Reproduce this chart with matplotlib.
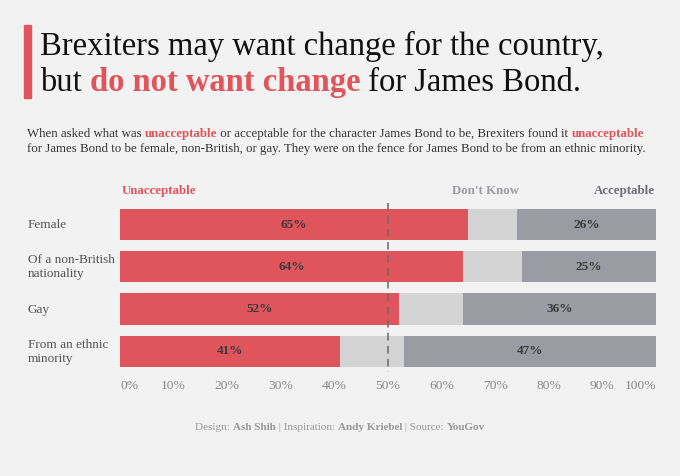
import matplotlib
matplotlib.use("Agg")
import matplotlib.pyplot as plt
from matplotlib.patches import Rectangle

categories = ["Female", "Of a non-British\nnationality", "Gay", "From an ethnic\nminority"]
unacceptable = [65, 64, 52, 41]
dont_know = [9, 11, 12, 12]
acceptable = [26, 25, 36, 47]
tick_vals = [0, 10, 20, 30, 40, 50, 60, 70, 80, 90, 100]
tick_labels = [f"{v}%" for v in tick_vals]

RED = "#E0555B"
LIGHT = "#D4D4D4"
DARK = "#9A9BA3"
BG = "#F2F2F2"
FONT = "Liberation Serif"

plt.rcParams["font.family"] = [FONT, "DejaVu Serif"]

W, H = 680, 476
fig = plt.figure(figsize=(W / 100, H / 100), dpi=100, facecolor=BG)

def fx(px):
    return px / W

def fy(py):
    return 1 - py / H

renderer = fig.canvas.get_renderer()

def rich(x_px, y_px, parts, **common):
    x = fx(x_px)
    for text, props in parts:
        kw = dict(common)
        kw.update(props)
        t = fig.text(x, fy(y_px), text, va="baseline", ha="left", **kw)
        bb = t.get_window_extent(renderer)
        x = bb.x1 / W
    return x

# Title bar
fig.patches.append(Rectangle((fx(24), fy(98)), fx(31) - fx(24), (98 - 25) / H,
                             transform=fig.transFigure, color=RED, zorder=3))

rich(40, 55, [("Brexiters may want change for the country,", {})], fontsize=23.5, color="#111111")
rich(40, 91, [("but ", {}), ("do not want change", {"color": RED, "fontweight": "bold"}),
              (" for James Bond.", {})], fontsize=23.5, color="#111111")

rich(27, 137, [("When asked what was ", {}),
               ("unacceptable", {"color": RED, "fontweight": "bold"}),
               (" or acceptable for the character James Bond to be, Brexiters found it ", {}),
               ("unacceptable", {"color": RED, "fontweight": "bold"})],
     fontsize=9.3, color="#333333")
rich(27, 152, [("for James Bond to be female, non-British, or gay. They were on the fence for James Bond to be from an ethnic minority.", {})],
     fontsize=9.3, color="#333333")

# Legend headers
fig.text(fx(122), fy(191), "Unacceptable", color=RED, fontweight="bold", fontsize=9.3, va="center", ha="left")
fig.text(fx(485), fy(191), "Don't Know", color="#9C9CA2", fontweight="bold", fontsize=9.3, va="center", ha="center")
fig.text(fx(655), fy(191), "Acceptable", color="#6E6E78", fontweight="bold", fontsize=9.3, va="center", ha="right")

# Axes
ax_top, ax_bot = 200, 375
ax = fig.add_axes([fx(120), fy(ax_bot), fx(656) - fx(120), (ax_bot - ax_top) / H])
ax.set_facecolor(BG)
ax.patch.set_alpha(0)

y = list(range(len(categories)))
hgt = 0.74
left2 = [u + d for u, d in zip(unacceptable, dont_know)]
ax.barh(y, unacceptable, height=hgt, color=RED, zorder=2)
ax.barh(y, dont_know, left=unacceptable, height=hgt, color=LIGHT, zorder=2)
ax.barh(y, acceptable, left=left2, height=hgt, color=DARK, zorder=2)

for i in y:
    ax.text(unacceptable[i] / 2, i, f"{unacceptable[i]}%", ha="center", va="center",
            fontweight="bold", fontsize=9.5, color="#3a3a3a", zorder=4)
    ax.text(left2[i] + acceptable[i] / 2, i, f"{acceptable[i]}%", ha="center", va="center",
            fontweight="bold", fontsize=9.5, color="#3a3a3a", zorder=4)

ax.plot([50, 50], [-0.52, 3.5], color="#6a6a6a", lw=1.1, ls=(0, (5, 3.5)), zorder=3)

ax.set_xlim(0, 100)
ax.set_ylim(3.56, -0.58)
ax.set_yticks([])
ax.set_xticks(tick_vals)
ax.set_xticklabels(tick_labels, fontsize=9.7, color="#888888")
ax.tick_params(axis="x", length=0, pad=3.5)
labels = ax.get_xticklabels()
labels[0].set_ha("left")
labels[-1].set_ha("right")
for s in ax.spines.values():
    s.set_visible(False)

# Category labels
centers_px = [225, 267, 309.5, 352]
for lab, cy in zip(categories, centers_px):
    fig.text(fx(28), fy(cy), lab, fontsize=9.5, color="#555555", va="center", ha="left", linespacing=1.25)

# Footer: measure total width and center
parts = [("Design: ", {}), ("Ash Shih", {"fontweight": "bold"}), (" | Inspiration: ", {}),
         ("Andy Kriebel", {"fontweight": "bold"}), (" | Source: ", {}), ("YouGov", {"fontweight": "bold"})]
total = 0
for text, props in parts:
    t = fig.text(0, 0, text, fontsize=8.0, **props)
    total += t.get_window_extent(renderer).width
    t.remove()
rich(340 - total / 2, 430, parts, fontsize=8.0, color="#999999")

fig.savefig("out.png", dpi=100, facecolor=BG)
